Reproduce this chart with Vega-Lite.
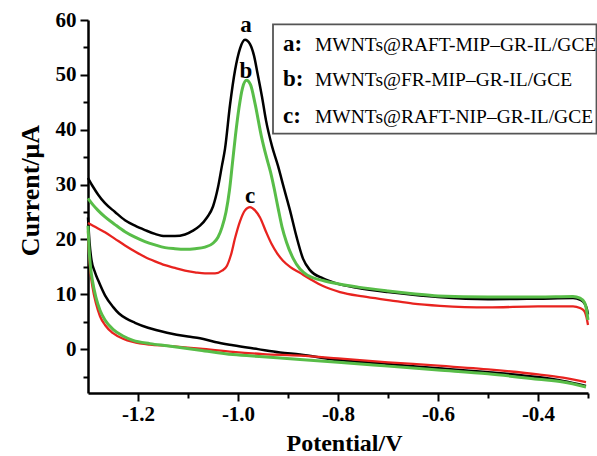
{
  "$schema": "https://vega.github.io/schema/vega-lite/v6.json",
  "width": 500,
  "height": 373,
  "autosize": {"type": "none"},
  "padding": {"left": 88, "top": 20, "right": 9, "bottom": 63},
  "background": "white",
  "config": {
    "view": {"stroke": null},
    "axis": {
      "domainColor": "black", "domainWidth": 2.5, "tickColor": "black", "tickWidth": 2,
      "grid": false, "labelFont": "Liberation Serif", "labelFontWeight": "bold", "labelFontSize": 21,
      "labelColor": "black", "titleFont": "Liberation Serif", "titleFontWeight": "bold", "titleFontSize": 26,
      "titleColor": "black", "labelFlush": false, "labelOverlap": false
    }
  },
  "datasets": {
    "cv": [
      {"c":"a","b":"up","x":-1.3,"y":31.2},{"c":"a","b":"up","x":-1.29,"y":29.6},{"c":"a","b":"up","x":-1.28,"y":28.2},{"c":"a","b":"up","x":-1.266,"y":26.6},{"c":"a","b":"up","x":-1.246,"y":25.0},{"c":"a","b":"up","x":-1.226,"y":23.5},{"c":"a","b":"up","x":-1.206,"y":22.5},{"c":"a","b":"up","x":-1.186,"y":21.7},{"c":"a","b":"up","x":-1.166,"y":21.0},{"c":"a","b":"up","x":-1.146,"y":20.6},{"c":"a","b":"up","x":-1.126,"y":20.6},{"c":"a","b":"up","x":-1.106,"y":20.9},{"c":"a","b":"up","x":-1.09,"y":21.6},{"c":"a","b":"up","x":-1.076,"y":22.5},{"c":"a","b":"up","x":-1.062,"y":24.0},{"c":"a","b":"up","x":-1.05,"y":26.0},{"c":"a","b":"up","x":-1.04,"y":29.5},{"c":"a","b":"up","x":-1.032,"y":33.5},{"c":"a","b":"up","x":-1.026,"y":36.5},{"c":"a","b":"up","x":-1.016,"y":44.5},{"c":"a","b":"up","x":-1.006,"y":50.8},{"c":"a","b":"up","x":-0.996,"y":54.8},{"c":"a","b":"up","x":-0.986,"y":56.4},{"c":"a","b":"up","x":-0.976,"y":55.6},{"c":"a","b":"up","x":-0.968,"y":53.5},{"c":"a","b":"up","x":-0.961,"y":50.3},{"c":"a","b":"up","x":-0.952,"y":46.0},{"c":"a","b":"up","x":-0.944,"y":41.7},{"c":"a","b":"up","x":-0.932,"y":37.0},{"c":"a","b":"up","x":-0.92,"y":33.4},{"c":"a","b":"up","x":-0.908,"y":29.3},{"c":"a","b":"up","x":-0.896,"y":25.3},{"c":"a","b":"up","x":-0.883,"y":20.5},{"c":"a","b":"up","x":-0.87,"y":16.5},{"c":"a","b":"up","x":-0.856,"y":14.4},{"c":"a","b":"up","x":-0.83,"y":12.9},{"c":"a","b":"up","x":-0.8,"y":11.9},{"c":"a","b":"up","x":-0.762,"y":11.2},{"c":"a","b":"up","x":-0.7,"y":10.4},{"c":"a","b":"up","x":-0.65,"y":9.9},{"c":"a","b":"up","x":-0.6,"y":9.5},{"c":"a","b":"up","x":-0.5,"y":9.1},{"c":"a","b":"up","x":-0.4,"y":9.2},{"c":"a","b":"up","x":-0.33,"y":9.3},{"c":"a","b":"up","x":-0.315,"y":9.0},{"c":"a","b":"up","x":-0.306,"y":8.2},{"c":"a","b":"up","x":-0.302,"y":7.2},{"c":"a","b":"up","x":-0.3,"y":6.3},
      {"c":"b","b":"up","x":-1.3,"y":27.5},{"c":"b","b":"up","x":-1.29,"y":26.3},{"c":"b","b":"up","x":-1.28,"y":25.3},{"c":"b","b":"up","x":-1.266,"y":24.1},{"c":"b","b":"up","x":-1.246,"y":22.7},{"c":"b","b":"up","x":-1.226,"y":21.4},{"c":"b","b":"up","x":-1.206,"y":20.4},{"c":"b","b":"up","x":-1.186,"y":19.6},{"c":"b","b":"up","x":-1.166,"y":19.0},{"c":"b","b":"up","x":-1.146,"y":18.5},{"c":"b","b":"up","x":-1.126,"y":18.3},{"c":"b","b":"up","x":-1.106,"y":18.2},{"c":"b","b":"up","x":-1.086,"y":18.3},{"c":"b","b":"up","x":-1.066,"y":18.6},{"c":"b","b":"up","x":-1.05,"y":19.3},{"c":"b","b":"up","x":-1.04,"y":20.4},{"c":"b","b":"up","x":-1.032,"y":22.2},{"c":"b","b":"up","x":-1.024,"y":25.0},{"c":"b","b":"up","x":-1.017,"y":29.0},{"c":"b","b":"up","x":-1.011,"y":34.0},{"c":"b","b":"up","x":-1.005,"y":39.0},{"c":"b","b":"up","x":-0.998,"y":44.0},{"c":"b","b":"up","x":-0.991,"y":47.6},{"c":"b","b":"up","x":-0.983,"y":49.0},{"c":"b","b":"up","x":-0.975,"y":48.2},{"c":"b","b":"up","x":-0.966,"y":44.8},{"c":"b","b":"up","x":-0.953,"y":38.7},{"c":"b","b":"up","x":-0.944,"y":35.3},{"c":"b","b":"up","x":-0.935,"y":32.3},{"c":"b","b":"up","x":-0.927,"y":29.0},{"c":"b","b":"up","x":-0.92,"y":25.8},{"c":"b","b":"up","x":-0.912,"y":22.3},{"c":"b","b":"up","x":-0.903,"y":19.5},{"c":"b","b":"up","x":-0.89,"y":16.6},{"c":"b","b":"up","x":-0.876,"y":14.6},{"c":"b","b":"up","x":-0.86,"y":13.4},{"c":"b","b":"up","x":-0.83,"y":12.5},{"c":"b","b":"up","x":-0.8,"y":11.9},{"c":"b","b":"up","x":-0.76,"y":11.3},{"c":"b","b":"up","x":-0.7,"y":10.6},{"c":"b","b":"up","x":-0.65,"y":10.1},{"c":"b","b":"up","x":-0.6,"y":9.7},{"c":"b","b":"up","x":-0.5,"y":9.5},{"c":"b","b":"up","x":-0.4,"y":9.5},{"c":"b","b":"up","x":-0.33,"y":9.6},{"c":"b","b":"up","x":-0.316,"y":9.3},{"c":"b","b":"up","x":-0.307,"y":8.5},{"c":"b","b":"up","x":-0.303,"y":7.2},{"c":"b","b":"up","x":-0.3,"y":5.3},
      {"c":"c","b":"up","x":-1.3,"y":23.0},{"c":"c","b":"up","x":-1.29,"y":22.5},{"c":"c","b":"up","x":-1.28,"y":22.0},{"c":"c","b":"up","x":-1.266,"y":21.3},{"c":"c","b":"up","x":-1.246,"y":20.1},{"c":"c","b":"up","x":-1.226,"y":18.9},{"c":"c","b":"up","x":-1.206,"y":17.8},{"c":"c","b":"up","x":-1.186,"y":16.8},{"c":"c","b":"up","x":-1.166,"y":16.0},{"c":"c","b":"up","x":-1.146,"y":15.3},{"c":"c","b":"up","x":-1.126,"y":14.8},{"c":"c","b":"up","x":-1.106,"y":14.3},{"c":"c","b":"up","x":-1.086,"y":14.0},{"c":"c","b":"up","x":-1.066,"y":13.8},{"c":"c","b":"up","x":-1.046,"y":13.8},{"c":"c","b":"up","x":-1.032,"y":14.3},{"c":"c","b":"up","x":-1.022,"y":15.2},{"c":"c","b":"up","x":-1.014,"y":17.2},{"c":"c","b":"up","x":-1.006,"y":20.2},{"c":"c","b":"up","x":-0.996,"y":23.3},{"c":"c","b":"up","x":-0.986,"y":25.3},{"c":"c","b":"up","x":-0.976,"y":25.9},{"c":"c","b":"up","x":-0.966,"y":25.3},{"c":"c","b":"up","x":-0.956,"y":24.0},{"c":"c","b":"up","x":-0.944,"y":21.4},{"c":"c","b":"up","x":-0.933,"y":19.2},{"c":"c","b":"up","x":-0.922,"y":17.5},{"c":"c","b":"up","x":-0.91,"y":16.1},{"c":"c","b":"up","x":-0.896,"y":15.0},{"c":"c","b":"up","x":-0.876,"y":13.9},{"c":"c","b":"up","x":-0.856,"y":12.8},{"c":"c","b":"up","x":-0.83,"y":11.5},{"c":"c","b":"up","x":-0.796,"y":10.4},{"c":"c","b":"up","x":-0.75,"y":9.6},{"c":"c","b":"up","x":-0.696,"y":8.9},{"c":"c","b":"up","x":-0.65,"y":8.3},{"c":"c","b":"up","x":-0.596,"y":7.9},{"c":"c","b":"up","x":-0.5,"y":7.6},{"c":"c","b":"up","x":-0.4,"y":7.8},{"c":"c","b":"up","x":-0.33,"y":7.8},{"c":"c","b":"up","x":-0.316,"y":7.5},{"c":"c","b":"up","x":-0.307,"y":6.9},{"c":"c","b":"up","x":-0.303,"y":5.8},{"c":"c","b":"up","x":-0.3,"y":4.4},
      {"c":"a","b":"dn","x":-1.3,"y":24},{"c":"a","b":"dn","x":-1.297,"y":19.5},{"c":"a","b":"dn","x":-1.293,"y":16.2},{"c":"a","b":"dn","x":-1.286,"y":14.0},{"c":"a","b":"dn","x":-1.279,"y":12.4},{"c":"a","b":"dn","x":-1.266,"y":9.8},{"c":"a","b":"dn","x":-1.25,"y":7.7},{"c":"a","b":"dn","x":-1.238,"y":6.5},{"c":"a","b":"dn","x":-1.224,"y":5.6},{"c":"a","b":"dn","x":-1.206,"y":4.8},{"c":"a","b":"dn","x":-1.18,"y":3.9},{"c":"a","b":"dn","x":-1.142,"y":3.0},{"c":"a","b":"dn","x":-1.1,"y":2.3},{"c":"a","b":"dn","x":-1.076,"y":2.0},{"c":"a","b":"dn","x":-1.046,"y":1.3},{"c":"a","b":"dn","x":-1.01,"y":0.7},{"c":"a","b":"dn","x":-0.96,"y":0.0},{"c":"a","b":"dn","x":-0.916,"y":-0.6},{"c":"a","b":"dn","x":-0.876,"y":-1.0},{"c":"a","b":"dn","x":-0.8,"y":-2.0},{"c":"a","b":"dn","x":-0.7,"y":-2.7},{"c":"a","b":"dn","x":-0.6,"y":-3.5},{"c":"a","b":"dn","x":-0.5,"y":-4.2},{"c":"a","b":"dn","x":-0.4,"y":-5.1},{"c":"a","b":"dn","x":-0.35,"y":-5.8},{"c":"a","b":"dn","x":-0.304,"y":-6.7},
      {"c":"c","b":"dn","x":-1.3,"y":21.5},{"c":"c","b":"dn","x":-1.298,"y":17.5},{"c":"c","b":"dn","x":-1.295,"y":14.0},{"c":"c","b":"dn","x":-1.291,"y":11.3},{"c":"c","b":"dn","x":-1.284,"y":8.3},{"c":"c","b":"dn","x":-1.276,"y":6.0},{"c":"c","b":"dn","x":-1.266,"y":4.4},{"c":"c","b":"dn","x":-1.25,"y":2.9},{"c":"c","b":"dn","x":-1.23,"y":1.9},{"c":"c","b":"dn","x":-1.21,"y":1.3},{"c":"c","b":"dn","x":-1.176,"y":0.8},{"c":"c","b":"dn","x":-1.142,"y":0.6},{"c":"c","b":"dn","x":-1.076,"y":0.1},{"c":"c","b":"dn","x":-1.01,"y":-0.5},{"c":"c","b":"dn","x":-0.95,"y":-0.9},{"c":"c","b":"dn","x":-0.876,"y":-1.2},{"c":"c","b":"dn","x":-0.8,"y":-1.7},{"c":"c","b":"dn","x":-0.7,"y":-2.4},{"c":"c","b":"dn","x":-0.6,"y":-3.0},{"c":"c","b":"dn","x":-0.5,"y":-3.7},{"c":"c","b":"dn","x":-0.4,"y":-4.6},{"c":"c","b":"dn","x":-0.35,"y":-5.2},{"c":"c","b":"dn","x":-0.304,"y":-6.0},
      {"c":"b","b":"dn","x":-1.3,"y":22.5},{"c":"b","b":"dn","x":-1.298,"y":18.5},{"c":"b","b":"dn","x":-1.295,"y":15.0},{"c":"b","b":"dn","x":-1.291,"y":12.4},{"c":"b","b":"dn","x":-1.284,"y":9.4},{"c":"b","b":"dn","x":-1.276,"y":7.1},{"c":"b","b":"dn","x":-1.266,"y":5.3},{"c":"b","b":"dn","x":-1.25,"y":3.6},{"c":"b","b":"dn","x":-1.23,"y":2.4},{"c":"b","b":"dn","x":-1.21,"y":1.6},{"c":"b","b":"dn","x":-1.176,"y":1.0},{"c":"b","b":"dn","x":-1.142,"y":0.6},{"c":"b","b":"dn","x":-1.076,"y":-0.2},{"c":"b","b":"dn","x":-1.01,"y":-1.0},{"c":"b","b":"dn","x":-0.95,"y":-1.4},{"c":"b","b":"dn","x":-0.876,"y":-1.9},{"c":"b","b":"dn","x":-0.8,"y":-2.4},{"c":"b","b":"dn","x":-0.7,"y":-3.1},{"c":"b","b":"dn","x":-0.6,"y":-3.8},{"c":"b","b":"dn","x":-0.5,"y":-4.5},{"c":"b","b":"dn","x":-0.4,"y":-5.5},{"c":"b","b":"dn","x":-0.35,"y":-6.0},{"c":"b","b":"dn","x":-0.304,"y":-6.9}
    ],
    "peaks": [
      {"t":"a","x":-0.984,"y":57.8},
      {"t":"b","x":-0.984,"y":49.4},
      {"t":"c","x":-0.976,"y":26.6}
    ],
    "legend": [
      {"k":"a:","t":"MWNTs@RAFT-MIP–GR-IL/GCE","x":-0.91,"xn":-0.846,"y":54.3},
      {"k":"b:","t":"MWNTs@FR-MIP–GR-IL/GCE","x":-0.91,"xn":-0.846,"y":47.9},
      {"k":"c:","t":"MWNTs@RAFT-NIP–GR-IL/GCE","x":-0.91,"xn":-0.846,"y":41.3}
    ],
    "box": [{"x":-0.93,"x2":-0.283,"y":39.3,"y2":59.2}]
  },
  "encoding": {
    "x": {
      "field": "x", "type": "quantitative",
      "scale": {"domain": [-1.3, -0.3], "nice": false, "zero": false},
      "axis": {
        "title": "Potential/V",
        "titleFontSize": 24,
        "values": [-1.2, -1.1, -1.0, -0.9, -0.8, -0.7, -0.6, -0.5, -0.4, -0.3],
        "labelExpr": "round(datum.value*10) % 2 === 0 ? replace(format(datum.value, '.1f'), '−', '-') : ''",
        "tickSize": {"condition": {"test": "round(datum.value*10) % 2 === 0", "value": 8}, "value": 5},
        "labelPadding": 2,
        "titleBaseline": "alphabetic",
        "titleY": 57,
        "titleX": 256
      }
    },
    "y": {
      "field": "y", "type": "quantitative",
      "scale": {"domain": [-8, 60], "nice": false, "zero": false},
      "axis": {
        "title": "Current/μA",
        "values": [-5, 0, 5, 10, 15, 20, 25, 30, 35, 40, 45, 50, 55, 60],
        "labelExpr": "datum.value % 10 === 0 ? datum.label : ''",
        "tickSize": {"condition": {"test": "datum.value % 10 === 0", "value": 8}, "value": 5},
        "labelPadding": 4,
        "titlePadding": 12,
        "titleY": 170
      }
    }
  },
  "layer": [
    {
      "data": {"name": "cv"},
      "transform": [{"filter": "datum.c === 'a'"}],
      "mark": {"type": "line", "interpolate": "monotone", "strokeWidth": 2.5, "color": "#000000"},
      "encoding": {"detail": {"field": "b"}}
    },
    {
      "data": {"name": "cv"},
      "transform": [{"filter": "datum.c === 'c'"}],
      "mark": {"type": "line", "interpolate": "monotone", "strokeWidth": 2.3, "color": "#e8231f"},
      "encoding": {"detail": {"field": "b"}}
    },
    {
      "data": {"name": "cv"},
      "transform": [{"filter": "datum.c === 'b'"}],
      "mark": {"type": "line", "interpolate": "monotone", "strokeWidth": 3, "color": "#58bd48"},
      "encoding": {"detail": {"field": "b"}}
    },
    {
      "data": {"name": "box"},
      "mark": {"type": "rect", "fill": "white", "stroke": "#555555", "strokeWidth": 1.8},
      "encoding": {"x2": {"field": "x2"}, "y2": {"field": "y2"}}
    },
    {
      "data": {"name": "peaks"},
      "mark": {"type": "text", "font": "Liberation Serif", "fontWeight": "bold", "fontSize": 23, "align": "center", "baseline": "alphabetic", "color": "black"},
      "encoding": {"text": {"field": "t"}}
    },
    {
      "data": {"name": "legend"},
      "mark": {"type": "text", "font": "Liberation Serif", "fontWeight": "bold", "fontSize": 23, "align": "left", "baseline": "alphabetic", "color": "black"},
      "encoding": {"text": {"field": "k"}}
    },
    {
      "data": {"name": "legend"},
      "mark": {"type": "text", "font": "Liberation Serif", "fontSize": 19.5, "align": "left", "baseline": "alphabetic", "color": "black"},
      "encoding": {"x": {"field": "xn", "type": "quantitative"}, "text": {"field": "t"}}
    }
  ]
}
